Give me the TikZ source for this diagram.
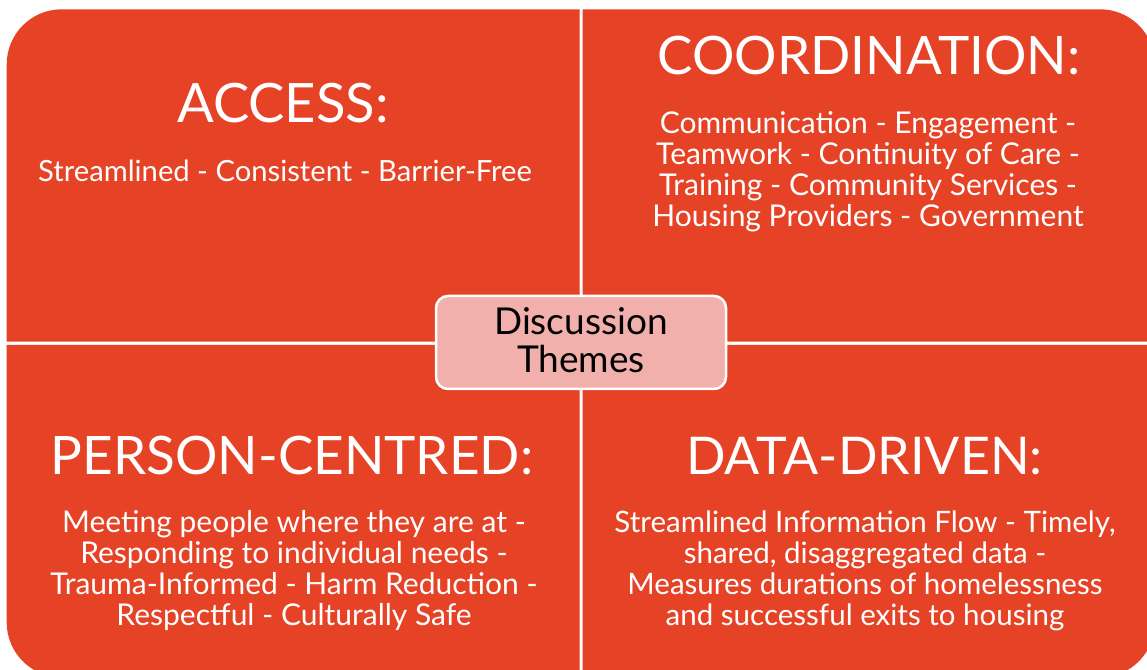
\documentclass[tikz,border=0pt]{standalone}
\usepackage{fontspec}
\setmainfont{Lato}
\definecolor{quad}{HTML}{E64226}
\definecolor{hub}{HTML}{F1B0AB}
\tikzset{
  quadfill/.style={fill=quad},
  head/.style={text=white, anchor=base, inner sep=0pt},
  body/.style={text=white, anchor=base, inner sep=0pt, align=center},
  hubbox/.style={draw=white, line width=2.5pt, fill=hub, rounded corners=12pt,
    minimum width=290pt, minimum height=93pt, inner sep=0pt}
}
\begin{document}
\begin{tikzpicture}[x=1pt,y=1pt]
\useasboundingbox (0,0) rectangle (1147,669);
\clip (0,0) rectangle (1147,669);
% quadrants
\fill[quadfill] (579.5,327.3) -- (6.7,327.3) -- (6.7,604.7) arc[start angle=180, end angle=90, radius=55] -- (579.5,659.7) -- cycle;
\fill[quadfill] (582.5,327.3) -- (582.5,659.7) -- (1100,659.7) arc[start angle=90, end angle=0, radius=55] -- (1155,327.3) -- cycle;
\fill[quadfill] (579.5,324) -- (6.7,324) -- (6.7,46.6) arc[start angle=180, end angle=270, radius=55] -- (579.5,-8.4) -- cycle;
\fill[quadfill] (582.5,324) -- (1155,324) -- (1155,46.6) arc[start angle=0, end angle=-90, radius=55] -- (582.5,-8.4) -- cycle;
% headings
\node[head, font=\fontsize{54.3}{58}\selectfont] (access) at (283,546) {ACCESS:};
\node[head, font=\fontsize{53}{56}\selectfont] (coord) at (869,594) {COORDINATION:};
\node[head, font=\fontsize{53}{56}\selectfont] (person) at (292,194) {PERSON-CENTRED:};
\node[head, font=\fontsize{52}{56}\selectfont] (data) at (864.5,194) {DATA-DRIVEN:};
% bodies (base anchor = baseline of the last line)
\node[body, font=\fontsize{29.2}{31}\selectfont] (accessbody) at (285,487) {Streamlined - Consistent - Barrier-Free};
\node[body, font=\fontsize{30}{31.3}\selectfont] (coordbody) at (868,442) {Communication - Engagement -\\Teamwork - Continuity of Care -\\Training - Community Services -\\Housing Providers - Government};
\node[body, font=\fontsize{30}{30.7}\selectfont] (personbody) at (294,44) {Meeting people where they are at -\\Responding to individual needs -\\Trauma-Informed - Harm Reduction -\\Respectful - Culturally Safe};
\node[body, font=\fontsize{29.5}{30.7}\selectfont] (databody) at (865,44) {Streamlined Information Flow - Timely,\\shared, disaggregated data -\\Measures durations of homelessness\\and successful exits to housing};
% hub
\node[hubbox] (hub) at (581,326.5) {};
\node[head, text=black, font=\fontsize{37}{38}\selectfont] (hubtop) at (581,334) {Discussion};
\node[head, text=black, font=\fontsize{37}{38}\selectfont] (hubbot) at (581,296) {Themes};
\end{tikzpicture}
\end{document}
